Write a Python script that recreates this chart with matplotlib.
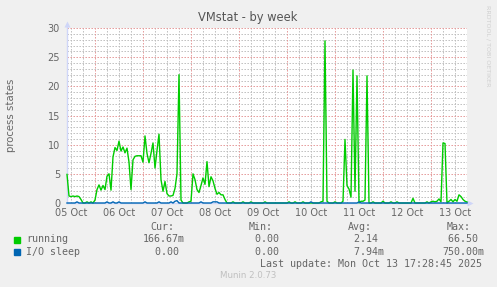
import numpy as np
import matplotlib
matplotlib.use("Agg")
import matplotlib.pyplot as plt

W, H = 497, 287

# hourly samples, hours counted from 05 Oct 00:00
start_hour = 10
end_hour = 210

run_d1 = [4.9, 1.2, 1.1, 1.2, 1.1, 1.2, 1.1, 0.6, 0, 0, 0.2, 0, 0.2, 0]
run_d2 = [0.5, 2.3, 3.1, 2.2, 3.0, 2.3, 4.6, 5.0, 2.2, 7.9, 9.5, 9.0,
          10.6, 8.9, 9.6, 8.6, 9.4, 7.0, 2.3, 7.4, 8.0, 8.1, 8.1, 8.1]
run_d3 = [7.0, 11.5, 8.5, 6.9, 8.5, 10.3, 6.0, 9.0, 11.8, 4.0, 2.0, 3.7,
          1.6, 1.2, 1.2, 1.3, 2.5, 5.0, 22.0, 0.5, 0, 0, 0, 0.2]
run_d4 = [0.3, 5.0, 4.0, 2.3, 1.8, 3.0, 4.3, 3.2, 7.1, 2.8, 4.5, 3.8,
          2.5, 1.5, 1.8, 1.4, 1.4, 0.6, 0, 0, 0, 0.2, 0, 0]
run_d5 = [0, 0, 0.2, 0, 0, 0, 0.2, 0, 0, 0, 0, 0,
          0, 0.2, 0, 0, 0, 0, 0, 0, 0, 0, 0, 0]
run_d6 = [0, 0.2, 0, 0, 0.2, 0, 0, 0, 0.2, 0, 0, 0,
          0, 0, 0, 0, 0, 0.2, 0.3, 27.8, 0.3, 0, 0, 0]
run_d7 = [0.2, 0, 0, 0, 0.3, 10.9, 3.0, 2.4, 1.0, 22.8, 2.0, 21.8,
          0, 0.3, 0.3, 0.5, 21.8, 0, 0, 0.2, 0, 0, 0, 0]
run_d8 = [0.3, 0, 0, 0, 0.2, 0, 0, 0.2, 0, 0, 0, 0,
          0, 0, 0, 0.8, 0, 0, 0, 0, 0, 0, 0.2, 0]
run_d9 = [0.2, 0.3, 0.2, 0.3, 0.7, 0.2, 10.3, 10.2, 0, 0.3, 0.6, 0.2,
          0.6, 0.3, 1.4, 1.1, 0.6, 0.3, 0.17]

io_d1 = [0, 0, 0, 0, 0, 0.2, 0, 0, 0, 0, 0, 0, 0, 0]
io_d2 = [0, 0, 0, 0, 0, 0, 0.2, 0, 0, 0.2, 0, 0,
         0.2, 0, 0, 0, 0, 0, 0, 0, 0, 0, 0, 0]
io_d3 = [0, 0.2, 0, 0, 0, 0, 0, 0, 0.2, 0, 0, 0,
         0, 0, 0.2, 0, 0.3, 0.4, 0, 0, 0, 0, 0, 0]
io_d4 = [0, 0, 0, 0, 0, 0.2, 0, 0, 0, 0, 0, 0.2,
         0.2, 0.2, 0, 0, 0, 0, 0, 0, 0, 0, 0, 0]
io_d5 = [0] * 24
io_d6 = [0, 0, 0, 0, 0, 0, 0, 0, 0, 0, 0, 0,
         0.2, 0, 0, 0, 0, 0, 0, 0, 0, 0, 0, 0]
io_d7 = [0, 0, 0, 0, 0, 0, 0, 0, 0, 0, 0, 0,
         0.2, 0, 0, 0, 0, 0, 0, 0, 0, 0, 0, 0]
io_d8 = [0] * 24
io_d9 = [0] * 19

running = run_d1 + run_d2 + run_d3 + run_d4 + run_d5 + run_d6 + run_d7 + run_d8 + run_d9
io_sleep = io_d1 + io_d2 + io_d3 + io_d4 + io_d5 + io_d6 + io_d7 + io_d8 + io_d9
hours = start_hour + np.arange(len(running))

day_labels = ["05 Oct", "06 Oct", "07 Oct", "08 Oct", "09 Oct",
              "10 Oct", "11 Oct", "12 Oct", "13 Oct"]

series_names = ["running", "I/O sleep"]
series_colors = ["#00CC00", "#0066B3"]
cur_vals = ["166.67m", "  0.00 "]
min_vals = ["  0.00 ", "  0.00 "]
avg_vals = ["  2.14 ", "  7.94m"]
max_vals = [" 66.50 ", "750.00m"]

AXIS = "#CFD6F8"
FONT = "#666666"
MONO = "DejaVu Sans Mono"


def px(x, y):
    return x / W, 1 - y / H


fig = plt.figure(figsize=(W / 100, H / 100), dpi=100, facecolor="#F0F0F0")
ax = fig.add_axes([67 / W, 1 - 203 / H, 400 / W, 175 / H])
ax.set_facecolor("white")
ax.set_xlim(start_hour, end_hour)
ax.set_ylim(0, 30)
for s in ax.spines.values():
    s.set_visible(False)

dots = (0, (1.4, 1.6))
# minor grid
for h in range(12, end_hour + 1, 6):
    if h % 24:
        ax.axvline(h, color="#BDBDBD", lw=0.72, ls=dots, zorder=1)
for v in range(1, 31):
    if v % 5:
        ax.axhline(v, color="#BDBDBD", lw=0.72, ls=dots, zorder=1)
# major grid
for h in range(24, end_hour + 1, 24):
    ax.axvline(h, color="#E49696", lw=0.72, ls=dots, zorder=2)
for v in range(5, 31, 5):
    ax.axhline(v, color="#E49696", lw=0.72, ls=dots, zorder=2)

# axes with arrows
ax.plot([start_hour, start_hour], [0, 30.6], color=AXIS, lw=1, clip_on=False, zorder=3)
ax.plot([start_hour, 211.5], [0, 0], color=AXIS, lw=1, clip_on=False, zorder=3)
ax.plot([start_hour], [30.7], marker="^", ms=4, color=AXIS, mec="none", clip_on=False)
ax.plot([211.6], [0], marker=">", ms=4, color=AXIS, mec="none", clip_on=False)

ax.plot(hours, running, color=series_colors[0], lw=1.0, clip_on=False, zorder=4)
ax.plot(hours, io_sleep, color=series_colors[1], lw=1.0, clip_on=False, zorder=5)

ax.set_xticks([12 + 24 * i for i in range(len(day_labels))])
ax.set_xticklabels(day_labels)
ax.set_yticks(range(0, 31, 5))
ax.tick_params(length=0, labelsize=7, labelcolor=FONT)
ax.tick_params(axis="x", pad=3.5)
ax.tick_params(axis="y", pad=5)

fig.text(*px(248, 18), "VMstat - by week", ha="center", va="center",
         fontsize=8.3, color="#555555")
fig.text(*px(11, 115), "process states", ha="center", va="center",
         rotation=90, fontsize=7.3, color=FONT)
fig.text(*px(488, 5), "RRDTOOL / TOBI OETIKER", ha="center", va="top",
         rotation=270, fontsize=4.6, color="#D0D0D0")

# legend block
for label, x in zip(["Cur:", "Min:", "Avg:", "Max:"], [150, 249, 348, 447]):
    fig.text(*px(x, 227), label, ha="left", va="center", family=MONO,
             fontsize=7.2, color=FONT)
rows_y = [239.5, 252]
for i in range(2):
    y = rows_y[i]
    fig.patches.append(plt.Rectangle(px(14, y + 3), 6 / W, 6 / H,
                                     transform=fig.transFigure,
                                     color=series_colors[i]))
    fig.text(*px(26.5, y), series_names[i], ha="left", va="center",
             family=MONO, fontsize=7.2, color=FONT)
    fig.text(*px(143, y), cur_vals[i], ha="left", va="center",
             family=MONO, fontsize=7.2, color=FONT)
    fig.text(*px(243, y), min_vals[i], ha="left", va="center",
             family=MONO, fontsize=7.2, color=FONT)
    fig.text(*px(342, y), avg_vals[i], ha="left", va="center",
             family=MONO, fontsize=7.2, color=FONT)
    fig.text(*px(442, y), max_vals[i], ha="left", va="center",
             family=MONO, fontsize=7.2, color=FONT)

fig.text(*px(482, 264), "Last update: Mon Oct 13 17:28:45 2025", ha="right",
         va="center", family=MONO, fontsize=7.2, color=FONT)
fig.text(*px(248, 276), "Munin 2.0.73", ha="center", va="center",
         fontsize=6.2, color="#C0C0C0")

fig.savefig("out.png", dpi=100, facecolor=fig.get_facecolor())
